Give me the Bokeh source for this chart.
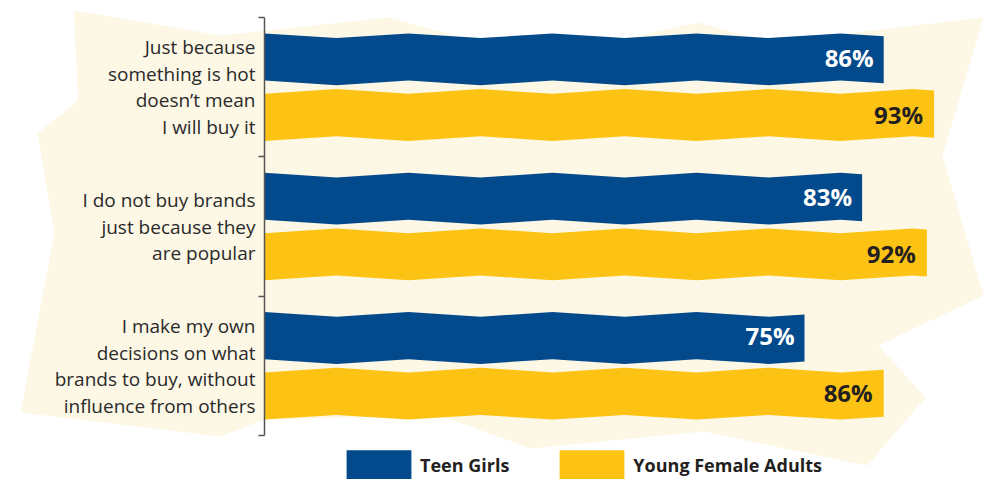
from bokeh.plotting import figure
from bokeh.models import (Range1d, FixedTicker, PolyAnnotation, Legend, LegendItem,
                          ColumnDataSource, LinearAxis)
from bokeh.core.properties import value
from bokeh.embed import file_html
from bokeh.resources import INLINE

# ---- data ----
categories = [
    "Just because\nsomething is hot\ndoesn\u2019t mean\nI will buy it",
    "I do not buy brands\njust because they\nare popular",
    "I make my own\ndecisions on what\nbrands to buy, without\ninfluence from others",
]
series_names = ["Teen Girls", "Young Female Adults"]
teen_girls = [86, 83, 75]
young_female_adults = [93, 92, 86]

# ---- style ----
BLUE = "#034a8c"
YELLOW = "#fdc314"
CREAM = "#fdf7e5"
TEXT = "#231f20"
FONT = "Open Sans"
DODGE = 0.2
HALF = 0.169
AMP = 0.017
W, H = 988, 479
X0_PX, PX_PER_PCT = 264, 7.2
Y0_PX, PX_PER_GROUP = 17, 418 / 3


def zig(x, phase):
    k = int(x // 10)
    f = (x - 10 * k) / 10.0
    a = -AMP if k % 2 == 0 else AMP
    return (a + (-a - a) * f) * phase


def wavy_bar(center, length, phase):
    pts = [0.0] + [float(k) for k in range(10, 101, 10) if k < length] + [float(length)]
    top_y = [center + zig(x, phase) - HALF for x in pts]
    bot_y = [center + zig(x, phase) + HALF for x in pts]
    return pts + pts[::-1], top_y + bot_y[::-1]


def bars(values, dodge, phase):
    xs, ys, cx, cy, lab = [], [], [], [], []
    for i, v in enumerate(values):
        c = i + 0.5 + dodge
        x, y = wavy_bar(c, v, phase)
        xs.append(x)
        ys.append(y)
        cx.append(v)
        cy.append(c)
        lab.append(f"{v}%")
    return ColumnDataSource(dict(xs=xs, ys=ys)), ColumnDataSource(dict(x=cx, y=cy, t=lab))


x_range = Range1d(-X0_PX / PX_PER_PCT, (W - X0_PX) / PX_PER_PCT)
y_range = Range1d((H - Y0_PX) / PX_PER_GROUP, -Y0_PX / PX_PER_GROUP)

p = figure(width=W, height=H, output_backend="svg", toolbar_location=None,
           x_range=x_range, y_range=y_range,
           x_axis_location=None, y_axis_location=None,
           min_border=0, min_border_left=0, min_border_right=0,
           min_border_top=0, min_border_bottom=0,
           outline_line_color=None, background_fill_color="white", border_fill_color="white")
p.xgrid.grid_line_color = None
p.ygrid.grid_line_color = None

bg = PolyAnnotation(
    xs=[73, 220, 388, 480, 600, 697, 770, 983, 942, 983, 878, 925, 867, 703, 530, 440, 265, 220, 20, 54, 37, 78],
    ys=[10, 35, 17, 42, 44, 22, 42, 17, 155, 295, 345, 397, 465, 431, 448, 415, 419, 436, 412, 232, 133, 100],
    xs_units="canvas", ys_units="canvas",
    fill_color=CREAM, fill_alpha=1, line_color=None, level="underlay")
p.add_layout(bg)

src_b, lab_b = bars(teen_girls, -DODGE, 1)
src_y, lab_y = bars(young_female_adults, DODGE, -1)

r_b = p.patches("xs", "ys", source=src_b, fill_color=BLUE, line_color=None)
r_y = p.patches("xs", "ys", source=src_y, fill_color=YELLOW, line_color=None)

p.text(x="x", y="y", text="t", source=lab_b, text_align="right", text_baseline="middle",
       x_offset=-10, y_offset=-2, text_font=value(FONT), text_font_style="bold",
       text_font_size="24px", text_color="white")
p.text(x="x", y="y", text="t", source=lab_y, text_align="right", text_baseline="middle",
       x_offset=-11, y_offset=-1, text_font=value(FONT), text_font_style="bold",
       text_font_size="24px", text_color=TEXT)

ax = LinearAxis(fixed_location=0, bounds=(0, 3),
                ticker=FixedTicker(ticks=[0.5, 1.5, 2.5], minor_ticks=[0, 1, 2, 3]))
ax.major_label_overrides = {i + 0.5: c for i, c in enumerate(categories)}
ax.axis_line_color = "#555555"
ax.axis_line_width = 1.5
ax.major_tick_line_color = None
ax.major_tick_out = 0
ax.major_tick_in = 0
ax.minor_tick_line_color = "#555555"
ax.minor_tick_line_width = 1.5
ax.minor_tick_out = 6
ax.minor_tick_in = 0
ax.major_label_standoff = 3
ax.major_label_text_font = FONT
ax.major_label_text_font_size = "19px"
ax.major_label_text_color = "#2a2a2a"
ax.major_label_text_line_height = 1.02
p.add_layout(ax, "left")

legend = Legend(items=[LegendItem(label=series_names[0], renderers=[r_b]),
                       LegendItem(label=series_names[1], renderers=[r_y])],
                orientation="horizontal", location=(338, -4),
                glyph_width=81, glyph_height=37, label_standoff=1, spacing=42,
                padding=0, margin=0, border_line_color=None, background_fill_alpha=0,
                label_text_font=FONT, label_text_font_style="bold",
                label_text_font_size="18px", label_text_color=TEXT)
p.add_layout(legend)

open("out.html", "w").write(file_html(p, INLINE))
